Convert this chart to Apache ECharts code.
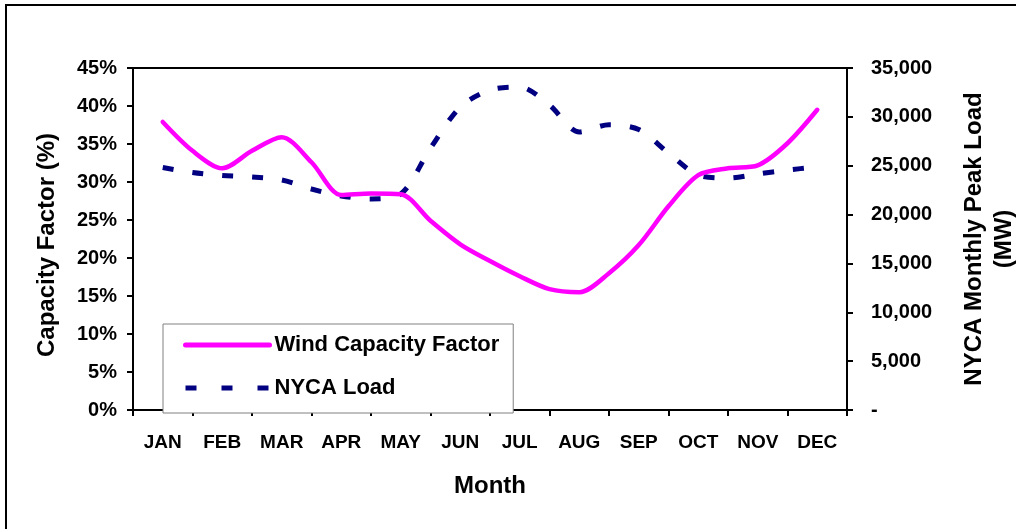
<!DOCTYPE html>
<html>
<head>
<meta charset="utf-8">
<script src="https://cdn.jsdelivr.net/npm/echarts@6/dist/echarts.min.js"></script>
<style>
  html, body { margin: 0; padding: 0; background: #ffffff; }
  #chart { width: 1016px; height: 529px; }
</style>
</head>
<body>
<div id="chart"></div>
<script>
// Month categories (axis labels)
const months = ['JAN', 'FEB', 'MAR', 'APR', 'MAY', 'JUN', 'JUL', 'AUG', 'SEP', 'OCT', 'NOV', 'DEC'];
// Sample positions in month units (0 = start of JAN, 12 = end of DEC): semi-monthly points
const samplePos = [0.5, 1, 1.5, 2, 2.5, 3, 3.5, 4, 4.5, 5, 5.5, 6, 6.5, 7, 7.5, 8, 8.5, 9, 9.5, 10, 10.5, 11, 11.5];
// Wind capacity factor (%)
const windCF = [37.9, 34.1, 31.8, 34.1, 35.9, 32.6, 28.3, 28.5, 28.4, 24.9, 21.8, 19.6, 17.6, 15.9, 15.5, 18.0, 21.7, 26.8, 30.9, 31.8, 32.2, 35.1, 39.5];
// NYCA monthly peak load (MW)
const nycaLoad = [24820, 24300, 24000, 23850, 23540, 22620, 21900, 21600, 22100, 26800, 31000, 32750, 33050, 31200, 28450, 29200, 28700, 26300, 24050, 23740, 24150, 24560, 24870];
// Axis tick settings
const leftTicks = { min: 0, max: 45, interval: 5 };
const rightTicks = { min: 0, max: 35000, interval: 5000 };

const FONT = "'Liberation Sans', Arial, sans-serif";

const chart = echarts.init(document.getElementById('chart'), null, { renderer: 'canvas' });

const windData = samplePos.map((p, i) => [p, windCF[i]]);
const loadData = samplePos.map((p, i) => [p, nycaLoad[i]]);

chart.setOption({
  backgroundColor: '#ffffff',
  animation: false,
  graphic: [{
    type: 'rect',
    shape: { x: 6, y: 5, width: 1030, height: 540 },
    style: { fill: 'none', stroke: '#000', lineWidth: 2 },
    silent: true,
    z: -1
  }],
  grid: {
    left: 133, right: 169, top: 68, bottom: 119,
    outerBoundsMode: 'none',
    containLabel: false,
    show: true, borderColor: '#000', borderWidth: 2, backgroundColor: 'transparent'
  },
  legend: {
    orient: 'vertical',
    left: 163, top: 324,
    padding: [10, 14, 14, 20],
    itemWidth: 84, itemHeight: 14, itemGap: 21,
    backgroundColor: '#ffffff',
    borderColor: '#808080', borderWidth: 1,
    itemStyle: { opacity: 0 },
    textStyle: { fontFamily: FONT, fontWeight: 'bold', fontSize: 22, color: '#000' },
    data: [
      { name: 'Wind Capacity Factor', lineStyle: { width: 5, color: '#FF00FF', type: 'solid', cap: 'round' } },
      { name: 'NYCA Load', lineStyle: { width: 5, color: '#000080', type: [11, 25] } }
    ],
    z: 10
  },
  xAxis: [{
    type: 'category',
    data: months,
    boundaryGap: true,
    name: 'Month',
    nameLocation: 'middle',
    nameGap: 64,
    nameTextStyle: { fontFamily: FONT, fontWeight: 'bold', fontSize: 24, color: '#000' },
    axisLine: { lineStyle: { color: '#000', width: 2 } },
    axisTick: { show: true, length: 6, alignWithLabel: false, lineStyle: { color: '#000', width: 2 } },
    axisLabel: { margin: 23, fontFamily: FONT, fontWeight: 'bold', fontSize: 19, color: '#000', interval: 0 },
    splitLine: { show: false }
  }, {
    type: 'value',
    min: 0, max: 12,
    show: false,
    splitLine: { show: false }
  }],
  yAxis: [{
    type: 'value',
    position: 'left',
    min: leftTicks.min, max: leftTicks.max, interval: leftTicks.interval,
    name: 'Capacity Factor (%)',
    nameLocation: 'middle',
    nameRotate: 90,
    nameGap: 74,
    nameTextStyle: { fontFamily: FONT, fontWeight: 'bold', fontSize: 24, color: '#000', padding: [0, 12, 0, 0] },
    axisLine: { show: true, lineStyle: { color: '#000', width: 2 } },
    axisTick: { show: true, length: 6, lineStyle: { color: '#000', width: 2 } },
    axisLabel: { margin: 16, fontFamily: FONT, fontWeight: 'bold', fontSize: 20, color: '#000', formatter: '{value}%' },
    splitLine: { show: false }
  }, {
    type: 'value',
    position: 'right',
    min: rightTicks.min, max: rightTicks.max, interval: rightTicks.interval,
    name: 'NYCA Monthly Peak Load\n(MW)',
    nameLocation: 'middle',
    nameRotate: 90,
    nameGap: 112,
    nameTextStyle: { fontFamily: FONT, fontWeight: 'bold', fontSize: 24, color: '#000', align: 'center', lineHeight: 30 },
    axisLine: { show: true, lineStyle: { color: '#000', width: 2 } },
    axisTick: { show: true, length: 6, lineStyle: { color: '#000', width: 2 } },
    axisLabel: {
      margin: 24, fontFamily: FONT, fontWeight: 'bold', fontSize: 20, color: '#000',
      formatter: function (v) { return v === 0 ? '-' : v.toLocaleString('en-US'); }
    },
    splitLine: { show: false }
  }],
  series: [{
    name: 'Wind Capacity Factor',
    type: 'line',
    xAxisIndex: 1, yAxisIndex: 0,
    data: windData,
    smooth: 0.3,
    symbol: 'none',
    color: '#FF00FF',
    lineStyle: { color: '#FF00FF', width: 4.5, cap: 'round' },
    z: 3
  }, {
    name: 'NYCA Load',
    type: 'line',
    xAxisIndex: 1, yAxisIndex: 1,
    data: loadData,
    smooth: 0.3,
    symbol: 'none',
    color: '#000080',
    lineStyle: { color: '#000080', width: 5, type: [11, 19] },
    z: 2
  }]
});
</script>
</body>
</html>
